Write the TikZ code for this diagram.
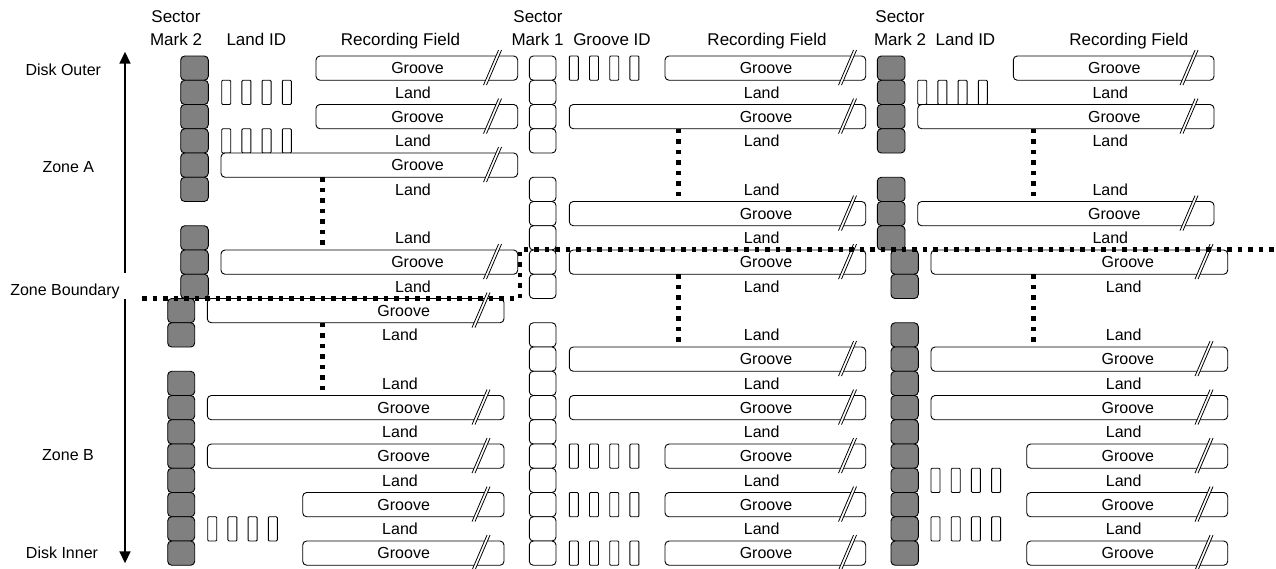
\documentclass[tikz,border=0pt]{standalone}
\usepackage{fontspec}
\setmainfont{Liberation Sans}
\usetikzlibrary{arrows.meta}
\definecolor{smgray}{RGB}{128,128,128}
\def\tp{56}
\def\pr{24.25}
\newcommand{\smk}[4]{% style, x1, x2, rows
  \foreach \k in {#4}{\path[#1] (#2,{\tp+\pr*\k}) rectangle (#3,{\tp+\pr*(\k+1)});}}
\newcommand{\gbx}[3]{% x1, x2, rows
  \foreach \k in {#3}{\path[gbox] (#1,{\tp+\pr*\k}) rectangle (#2,{\tp+\pr*(\k+1)});}}
\newcommand{\idset}[2]{% x0, rows
  \foreach \k in {#2}{\foreach \i in {0,...,3}{%
    \path[idbox] ({#1+20.2*\i},{\tp+\pr*\k}) rectangle ({#1+20.2*\i+9},{\tp+\pr*(\k+1)});}}}
\newcommand{\brk}[2]{% cx, rows
  \foreach \k in {#2}{%
    \pgfmathsetmacro\my{\tp+\pr*\k+12.1}
    \fill[white] ({#1-9},{\my+17}) -- ({#1+6},{\my-18}) -- ({#1+9},{\my-18}) -- ({#1-6},{\my+17}) -- cycle;
    \draw[line width=0.8pt] ({#1-9},{\my+17}) -- ({#1+6},{\my-18}) ({#1-6},{\my+17}) -- ({#1+9},{\my-18});}}
\newcommand{\rowtxt}[4]{% prefix, x, rows, text
  \foreach \k in {#3}{\node[lbl] (#1-\k) at (#2,{\tp+\pr*\k+12.1}) {#4};}}
\tikzset{
  bx/.style={draw=black, line width=0.9pt, rounded corners=4pt},
  smdark/.style={bx, fill=smgray},
  smwhite/.style={bx, fill=white},
  gbox/.style={bx, fill=white},
  idbox/.style={draw=black, line width=0.9pt, rounded corners=1pt, fill=white},
  lbl/.style={font=\fontsize{16}{19}\selectfont, inner sep=0pt, text height=11.5pt, text depth=0pt},
  hdr/.style={font=\fontsize{17}{20}\selectfont, inner sep=0pt, text height=12.2pt, text depth=0pt},
  dotln/.style={line width=4.5pt, dash pattern=on 4.5pt off 6pt},
  axis/.style={line width=1.6pt, -{Triangle[length=12pt,width=11pt]}},
}
\begin{document}
\begin{tikzpicture}[x=1pt,y=-1pt]
\useasboundingbox (0,0) rectangle (1276,568);
% sector marks
\smk{smdark}{180.7}{208.3}{0,1,2,3,4,5,7,8,9}
\smk{smdark}{167.7}{194.7}{10,11,13,14,15,16,17,18,19,20}
\smk{smwhite}{529.3}{556}{0,1,2,3,5,6,7,8,9,11,12,13,14,15,16,17,18,19,20}
\smk{smdark}{877.3}{905}{0,1,2,3,5,6,7}
\smk{smdark}{891}{918.3}{8,9,11,12,13,14,15,16,17,18,19,20}
% ID fields
\idset{221.7}{1,3}
\idset{207.7}{19}
\idset{569.3}{0,16,18,20}
\idset{917.7}{1}
\idset{931}{17,19}
% groove boxes
\gbx{316}{517.7}{0,2}
\gbx{221}{517.7}{4,8}
\gbx{207.3}{504}{10,14,16}
\gbx{302.7}{504}{18,20}
\gbx{665}{865.7}{0}
\gbx{569.3}{865.7}{2,6,8,12,14}
\gbx{665}{865.7}{16,18,20}
\gbx{1013.3}{1214}{0}
\gbx{917.7}{1214}{2,6}
\gbx{931}{1227.7}{8,12,14}
\gbx{1026.7}{1227.7}{16,18,20}
% breaks
\brk{492.5}{0,2,4,8}
\brk{481}{10,14,16,18,20}
\brk{847.5}{0,2,6,8,12,14,16,18,20}
\brk{1189}{0,2,6}
\brk{1204}{8,12,14,16,18,20}
% row texts
\rowtxt{ag}{417.5}{0,2,4,8}{Groove}
\rowtxt{al}{413}{1,3,5,7,9}{Land}
\rowtxt{bg}{403.7}{10,14,16,18,20}{Groove}
\rowtxt{bl}{400}{11,13,15,17,19}{Land}
\rowtxt{cg}{766}{0,2,6,8,12,14,16,18,20}{Groove}
\rowtxt{cl}{761.7}{1,3,5,7,9,11,13,15,17,19}{Land}
\rowtxt{dg}{1114.3}{0,2,6}{Groove}
\rowtxt{dl}{1110.3}{1,3,5,7}{Land}
\rowtxt{eg}{1127.8}{8,12,14,16,18,20}{Groove}
\rowtxt{el}{1123.7}{9,11,13,15,17,19}{Land}
% headers
\node[hdr] (s1a) at (176,16) {Sector};
\node[hdr] (s1b) at (176,39.3) {Mark 2};
\node[hdr] (lid1) at (256.3,39.3) {Land ID};
\node[hdr] (rf1) at (400.5,39.3) {Recording Field};
\node[hdr] (s2a) at (538,16) {Sector};
\node[hdr] (s2b) at (537.5,39.3) {Mark 1};
\node[hdr] (gid) at (612,39.3) {Groove ID};
\node[hdr] (rf2) at (767,39.3) {Recording Field};
\node[hdr] (s3a) at (900,16) {Sector};
\node[hdr] (s3b) at (900,39.3) {Mark 2};
\node[hdr] (lid3) at (965.5,39.3) {Land ID};
\node[hdr] (rf3) at (1128.8,39.3) {Recording Field};
% left labels
\node[lbl] (dout) at (63.3,69.3) {Disk Outer};
\node[lbl] (za) at (68.3,166.7) {Zone A};
\node[lbl] (zb) at (65,289.3) {Zone Boundary};
\node[lbl] (zbb) at (68,455) {Zone B};
\node[lbl] (din) at (62,552.3) {Disk Inner};
% axis arrows
\coordinate (axm1) at (125,272.7);
\coordinate (axt) at (125,51.7);
\coordinate (axm2) at (125,299.3);
\coordinate (axb) at (125,563.3);
\draw[axis] (axm1) -- (axt);
\draw[axis] (axm2) -- (axb);
% dotted markers
\draw[dotln] (322.7,{\tp+\pr*5}) -- (322.7,{\tp+\pr*8});
\draw[dotln] (322.7,{\tp+\pr*11}) -- (322.7,{\tp+\pr*14});
\draw[dotln] (678.3,{\tp+\pr*3}) -- (678.3,{\tp+\pr*6});
\draw[dotln] (678.3,{\tp+\pr*9}) -- (678.3,{\tp+\pr*12});
\draw[dotln] (1033.3,{\tp+\pr*3}) -- (1033.3,{\tp+\pr*6});
\draw[dotln] (1033.3,{\tp+\pr*9}) -- (1033.3,{\tp+\pr*12});
% zone boundary
\draw[dotln] (142,298.4) -- (520,298.4) -- (520,249.6) -- (1276,249.6);
\end{tikzpicture}
\end{document}
